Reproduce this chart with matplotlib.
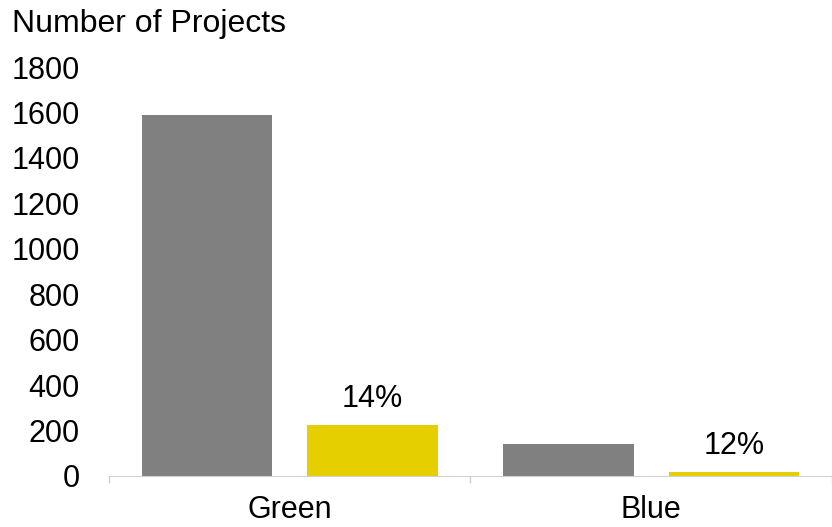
import numpy as np
import matplotlib.pyplot as plt

plt.rcParams['font.family'] = ['Liberation Sans', 'DejaVu Sans']

# project counts per category
categories = ['Green', 'Blue']
total_projects = [1590, 140]
subset_projects = [225, 17]
subset_share = ['14%', '12%']

fig = plt.figure(figsize=(8.32, 5.27), dpi=100)
ax = fig.add_axes([0.131, 0.0968, 0.869, 0.776])

x = np.arange(len(categories))
w = 0.36
off = 0.229
ax.bar(x - off, total_projects, width=w, color='#808080')
bars = ax.bar(x + off, subset_projects, width=w, color='#E6CF00')

for b, txt in zip(bars, subset_share):
    ax.annotate(txt, (b.get_x() + b.get_width() / 2, b.get_height()),
                xytext=(0, 8), textcoords='offset points',
                ha='center', va='bottom', fontsize=22)

ax.set_ylim(0, 1800)
ax.set_yticks(np.arange(0, 1801, 200))
ax.set_xlim(-0.5, 1.488)
ax.set_xticks(x)
ax.set_xticklabels(categories)

# category separators below the axis line
ax.set_xticks([-0.5, 0.5, 1.5], minor=True)
ax.tick_params(axis='x', which='major', length=0, pad=14, labelsize=22)
ax.tick_params(axis='x', which='minor', length=5, color='#D0D0D0', width=1)
ax.tick_params(axis='y', length=0, pad=21, labelsize=22)

for s in ['top', 'right', 'left']:
    ax.spines[s].set_visible(False)
ax.spines['bottom'].set_color('#D0D0D0')

fig.text(0.014, 0.955, 'Number of Projects', fontsize=23, ha='left', va='center')

fig.savefig('out.png', dpi=100)
